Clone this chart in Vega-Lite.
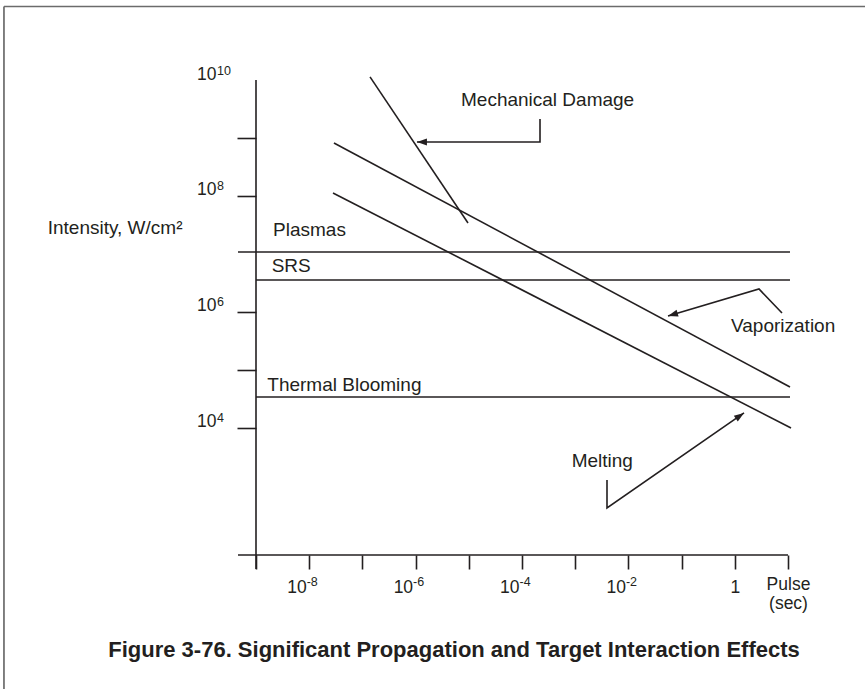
{
  "$schema": "https://vega.github.io/schema/vega-lite/v6.json",
  "width": 532,
  "height": 475,
  "autosize": {"type": "none"},
  "padding": {"left": 256, "top": 80, "right": 77, "bottom": 134},
  "background": "white",
  "config": {"view": {"stroke": null}, "font": "Liberation Sans"},
  "title": {
    "text": "Figure 3-76. Significant Propagation and Target Interaction Effects",
    "orient": "bottom",
    "anchor": "middle",
    "frame": "group",
    "dx": -68,
    "offset": -50,
    "font": "Liberation Sans",
    "fontSize": 22,
    "fontWeight": "bold",
    "color": "#231f20"
  },
  "datasets": {
    "frame": [
      {"x": 1.83e-14, "y": 1.85e11, "x2": 347, "y2": 1.85e11},
      {"x": 1.83e-14, "y": 1.85e11, "x2": 1.83e-14, "y2": 0.316}
    ],
    "segments": [
      {"name": "Mechanical Damage", "x": 1.39e-7, "y": 1.13e10, "x2": 9.66e-6, "y2": 3.42e7},
      {"name": "Vaporization", "x": 2.92e-8, "y": 8.2e8, "x2": 10.9, "y2": 5.09e4},
      {"name": "Melting", "x": 2.8e-8, "y": 1.13e8, "x2": 11.4, "y2": 1.0e4},
      {"name": "Plasmas", "x": 4.59e-10, "y": 1.08e7, "x2": 10.9, "y2": 1.08e7},
      {"name": "SRS", "x": 1e-9, "y": 3.56e6, "x2": 10.9, "y2": 3.56e6},
      {"name": "Thermal Blooming", "x": 1e-9, "y": 3.42e4, "x2": 10.9, "y2": 3.42e4},
      {"name": "Intensity axis", "x": 1e-9, "y": 1e10, "x2": 1e-9, "y2": 37.1},
      {"name": "Pulse axis", "x": 4.59e-10, "y": 64.6, "x2": 10, "y2": 64.6}
    ],
    "arrows": [
      {"name": "Mechanical Damage", "seq": 1, "x": 2.18e-4, "y": 2.13e9},
      {"name": "Mechanical Damage", "seq": 2, "x": 2.18e-4, "y": 8.53e8},
      {"name": "Mechanical Damage", "seq": 3, "x": 1.06e-6, "y": 8.53e8},
      {"name": "Vaporization", "seq": 1, "x": 7.71, "y": 9.6e5},
      {"name": "Vaporization", "seq": 2, "x": 2.85, "y": 2.49e6},
      {"name": "Vaporization", "seq": 3, "x": 0.0555, "y": 8.53e5},
      {"name": "Melting", "seq": 1, "x": 3.96e-3, "y": 1268},
      {"name": "Melting", "seq": 2, "x": 3.96e-3, "y": 418},
      {"name": "Melting", "seq": 3, "x": 1.49, "y": 1.82e4}
    ],
    "labels": [
      {"text": "Mechanical Damage", "x": 7.13e-6, "y": 3.56e9},
      {"text": "Vaporization", "x": 0.849, "y": 4.52e5},
      {"text": "Melting", "x": 8.59e-4, "y": 2128},
      {"text": "Plasmas", "x": 2.09e-9, "y": 2.04e7},
      {"text": "SRS", "x": 1.97e-9, "y": 4.9e6},
      {"text": "Thermal Blooming", "x": 1.63e-9, "y": 4.35e4}
    ],
    "yExponents": [
      {"x": 1e-9, "y": 1e10, "exp": "10"},
      {"x": 1e-9, "y": 1e8, "exp": "8"},
      {"x": 1e-9, "y": 1e6, "exp": "6"},
      {"x": 1e-9, "y": 1e4, "exp": "4"}
    ],
    "xExponents": [
      {"x": 1e-8, "y": 64.6, "exp": "-8"},
      {"x": 1e-6, "y": 64.6, "exp": "-6"},
      {"x": 1e-4, "y": 64.6, "exp": "-4"},
      {"x": 1e-2, "y": 64.6, "exp": "-2"}
    ]
  },
  "encoding": {
    "x": {
      "field": "x",
      "type": "quantitative",
      "scale": {"type": "log", "domain": [1e-9, 10], "nice": false},
      "axis": {
        "values": [1e-9, 1e-8, 1e-7, 1e-6, 1e-5, 1e-4, 1e-3, 1e-2, 1e-1, 1, 10],
        "title": null,
        "domain": false,
        "grid": false,
        "tickSize": 14,
        "tickWidth": 1.6,
        "tickColor": "#231f20",
        "labelFont": "Liberation Sans",
        "labelFontSize": 17.5,
        "labelColor": "#231f20",
        "labelPadding": {"condition": {"test": "datum.value == 10", "value": 20}, "value": 23},
        "labelBaseline": "alphabetic",
        "labelAlign": {"condition": {"test": "datum.value < 0.5", "value": "right"}, "value": "center"},
        "labelOffset": {"condition": {"test": "datum.value < 0.5", "value": -3}, "value": 0},
        "labelFlush": false,
        "labelOverlap": false,
        "labelBound": false,
        "labelLineHeight": 19,
        "labelExpr": "datum.value == 1e-8 || datum.value == 1e-6 || datum.value == 1e-4 || datum.value == 1e-2 ? '10' : datum.value == 1 ? '1' : datum.value == 10 ? ['Pulse', '(sec)'] : ''"
      }
    },
    "y": {
      "field": "y",
      "type": "quantitative",
      "scale": {"type": "log", "domain": [64.6, 1e10], "nice": false},
      "axis": {
        "values": [1e4, 1e5, 1e6, 1e8, 1e9, 1e10],
        "title": "Intensity, W/cm²",
        "titleAngle": 0,
        "titleAlign": "right",
        "titleBaseline": "alphabetic",
        "titleX": -74,
        "titleY": 153,
        "titleFont": "Liberation Sans",
        "titleFontSize": 19,
        "titleFontWeight": "normal",
        "titleColor": "#231f20",
        "domain": false,
        "grid": false,
        "tickSize": 19,
        "tickWidth": 1.6,
        "tickColor": "#231f20",
        "tickOpacity": {"condition": {"test": "datum.value == 1e10", "value": 0}, "value": 1},
        "labelFont": "Liberation Sans",
        "labelFontSize": 17.5,
        "labelColor": "#231f20",
        "labelPadding": 21,
        "labelAlign": "right",
        "labelBaseline": "alphabetic",
        "labelOffset": -1,
        "labelOverlap": false,
        "labelBound": false,
        "labelExpr": "datum.value == 1e10 || datum.value == 1e8 || datum.value == 1e6 || datum.value == 1e4 ? '10' : ''"
      }
    }
  },
  "layer": [
    {
      "data": {"name": "frame"},
      "mark": {"type": "rule", "stroke": "#6b6b6b", "strokeWidth": 1.7},
      "encoding": {"x2": {"field": "x2"}, "y2": {"field": "y2"}}
    },
    {
      "data": {"name": "segments"},
      "mark": {"type": "rule", "stroke": "#231f20", "strokeWidth": 1.6},
      "encoding": {"x2": {"field": "x2"}, "y2": {"field": "y2"}}
    },
    {
      "data": {"name": "arrows"},
      "mark": {"type": "line", "stroke": "#231f20", "strokeWidth": 1.6},
      "encoding": {"detail": {"field": "name"}, "order": {"field": "seq"}}
    },
    {
      "data": {"name": "arrows"},
      "transform": [{"filter": "datum.seq == 3"}],
      "mark": {"type": "point", "shape": "M0,0L-1,-0.35L-1,0.35Z", "filled": true, "color": "#231f20", "opacity": 1, "size": 400, "strokeWidth": 0},
      "encoding": {
        "angle": {
          "condition": [
            {"test": "datum.name == 'Vaporization'", "value": 163.5},
            {"test": "datum.name == 'Melting'", "value": 325.3}
          ],
          "value": 180
        }
      }
    },
    {
      "data": {"name": "labels"},
      "mark": {"type": "text", "align": "left", "baseline": "alphabetic", "font": "Liberation Sans", "fontSize": 19, "color": "#231f20"},
      "encoding": {"text": {"field": "text"}}
    },
    {
      "data": {"name": "yExponents"},
      "mark": {"type": "text", "align": "left", "baseline": "alphabetic", "dx": -39, "dy": -5.5, "font": "Liberation Sans", "fontSize": 12.5, "color": "#231f20"},
      "encoding": {"text": {"field": "exp"}}
    },
    {
      "data": {"name": "xExponents"},
      "mark": {"type": "text", "align": "left", "baseline": "alphabetic", "dx": -2.5, "dy": 31, "font": "Liberation Sans", "fontSize": 12.5, "color": "#231f20"},
      "encoding": {"text": {"field": "exp"}}
    }
  ]
}
